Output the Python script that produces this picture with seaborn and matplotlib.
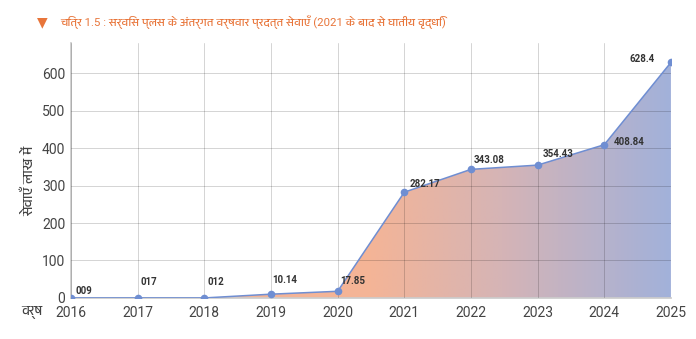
import numpy as np
import pandas as pd
import seaborn as sns
import matplotlib.pyplot as plt
from matplotlib import font_manager
from matplotlib.colors import LinearSegmentedColormap

years = [2016, 2017, 2018, 2019, 2020, 2021, 2022, 2023, 2024, 2025]
services = [0.09, 0.17, 0.12, 10.14, 17.85, 282.17, 343.08, 354.43, 408.84, 628.4]
value_labels = ["009", "017", "012", "10.14", "17.85", "282.17", "343.08", "354.43", "408.84", "628.4"]
y_ticks = [0, 100, 200, 300, 400, 500, 600]

title_text = "चित्र 1.5 : सर्विस प्लस के अंतर्गत वर्षवार प्रदत्त सेवाएँ (2021 के बाद से घातीय वृद्धि)"
y_title = "सेवाएँ लाख में"
x_title = "वर्ष"


def find_devanagari_font():
    from fontTools.ttLib import TTFont
    best = None
    for f in font_manager.fontManager.ttflist:
        try:
            tt = TTFont(f.fname, fontNumber=0, lazy=True)
            cmap = tt.getBestCmap()
            if cmap and 0x0938 in cmap:
                if "Devanagari" in f.name:
                    return f.name
                if best is None:
                    best = f.name
        except Exception:
            continue
    return best


sns.set_theme(style="white")
deva = find_devanagari_font()
families = ["Roboto"] + ([deva] if deva else []) + ["DejaVu Sans"]
plt.rcParams["font.family"] = families

df = pd.DataFrame({"year": years, "services": services})

fig = plt.figure(figsize=(6.96, 3.39), dpi=100)
ax = fig.add_axes([0.102, 0.121, 0.862, 0.752])

# gradient area under the line
poly = ax.fill_between(df["year"], df["services"], 0, color="none", lw=0)
cmap = LinearSegmentedColormap.from_list(
    "area", [(0.0, "#f6b596"), (0.5, "#f4b497"), (0.72, "#d5b4b6"), (1.0, "#a2b1da")]
)
grad = np.linspace(0, 1, 512).reshape(1, -1)
img = ax.imshow(grad, extent=[2016, 2025, 0, 700], aspect="auto", cmap=cmap,
                origin="lower", zorder=1)
img.set_clip_path(poly.get_paths()[0], transform=ax.transData)

sns.lineplot(data=df, x="year", y="services", ax=ax, color="#6f8ed2", lw=1.1,
             marker="o", markersize=5.5, markeredgewidth=0, zorder=4)

ax.set_xlim(2016, 2025)
ax.set_ylim(0, 680)
ax.set_xticks(years)
ax.set_yticks(y_ticks)
ax.tick_params(axis="both", labelsize=10, colors="#444444", length=0)
ax.tick_params(axis="x", pad=6)
ax.tick_params(axis="y", pad=4)
ax.grid(True, color="black", alpha=0.17, lw=0.7, zorder=3)
ax.set_axisbelow(False)
for s in ["top", "right"]:
    ax.spines[s].set_visible(False)
ax.spines["left"].set_color("#cccccc")
ax.spines["bottom"].set_color("#cccccc")
ax.set_xlabel("")
ax.set_ylabel("")

# label offsets in pixels (dx, dy) from each point; negative dx → right-aligned
offsets_px = [(5, 7), (3, 16), (3, 16), (1.5, 14), (3, 10.5), (5, 8), (3, 9), (5, 11), (9, 3), (-16, 3.5)]
for x, y, t, (dx, dy) in zip(years, services, value_labels, offsets_px):
    ha = "right" if dx < 0 else "left"
    ax.annotate(t, (x, y), xytext=(dx * 0.72, dy * 0.72), textcoords="offset points",
                ha=ha, va="center", fontsize=7, fontweight="bold", color="#333333",
                zorder=6)

fig.text(0.042, 0.466, y_title, rotation=90, ha="center", va="center",
         fontsize=10, color="#444444")
fig.text(0.046, 0.077, x_title, ha="center", va="center", fontsize=9.5, color="#444444")

fig.text(0.061, 0.933, "▼", ha="center", va="center", fontsize=10, color="#e8753a",
         family="DejaVu Sans")
fig.text(0.086, 0.935, title_text, ha="left", va="center", fontsize=8.2, color="#e8753a")

fig.savefig("out.png", dpi=100)
